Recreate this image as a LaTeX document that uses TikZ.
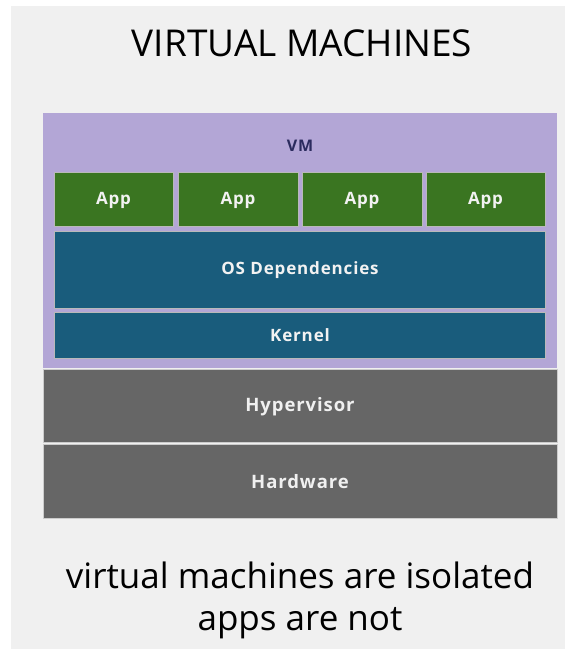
\documentclass[tikz,border=0pt]{standalone}
\usepackage{fontspec}
\setmainfont{Open Sans}
\newfontfamily\labelfont{Open Sans}[LetterSpace=5]
\begin{document}
\begin{tikzpicture}[x=1pt,y=-1pt,
  lbl/.style={text=white!95!black, font=\labelfont\bfseries\fontsize{17}{18}\selectfont},
  graylbl/.style={text=white!94!black, font=\labelfont\bfseries\fontsize{18.5}{20}\selectfont}]
\definecolor{panel}{HTML}{F0F0F0}
\definecolor{vmpurple}{HTML}{B3A6D6}
\definecolor{appgreen}{HTML}{3A7521}
\definecolor{osblue}{HTML}{195C7C}
\definecolor{hwgray}{HTML}{666666}
\definecolor{vmtext}{HTML}{2B2B5E}
\useasboundingbox (0,0) rectangle (565,649);
\fill[white] (0,0) rectangle (565,649);
\fill[panel] (11,6) rectangle (565,649);

% title
\node (title) at (302,43) {\fontsize{37}{40}\selectfont VIRTUAL MACHINES};

% VM container
\fill[vmpurple] (43,113) rectangle (557,368);
\node (vm) at (300,146) [text=vmtext, font=\labelfont\bfseries\fontsize{16}{18}\selectfont] {VM};

% application row
\foreach \i/\xa/\xb in {1/54/173, 2/178/298, 3/302/422, 4/426/545}{
  \fill[appgreen, draw=gray!55] (\xa,172) rectangle (\xb,226);
  \node[lbl] (app\i) at ({(\xa+\xb)/2},200) {App};
}

% OS dependencies and kernel
\fill[osblue, draw=gray!55] (54,231) rectangle (545,308);
\node[lbl] (os) at (300,270) {OS Dependencies};
\fill[osblue, draw=gray!55] (54,312) rectangle (545,358);
\node[lbl] (kernel) at (300,335) {Kernel};

% hypervisor and hardware
\fill[hwgray, draw=gray!40] (43,369) rectangle (557,442);
\node[graylbl] (hyp) at (300,407) {Hypervisor};
\fill[hwgray, draw=gray!40] (43,444) rectangle (557,518);
\node[graylbl] (hw) at (300,482) {Hardware};

% caption
\node (cap) at (300,600) [align=center, font=\fontsize{35}{42}\selectfont]
  {virtual machines are isolated\\apps are not};
\end{tikzpicture}
\end{document}
